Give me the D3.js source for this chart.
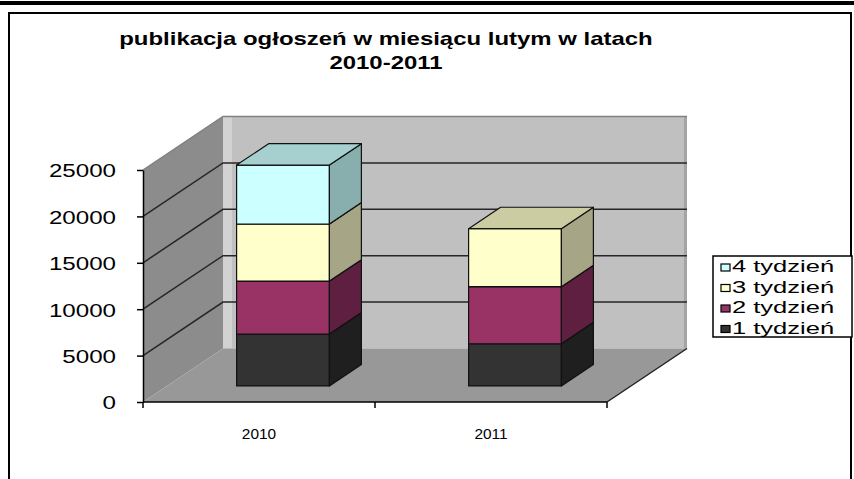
<!DOCTYPE html>
<html>
<head>
<meta charset="utf-8">
<script src="https://cdn.jsdelivr.net/npm/d3@7"></script>
<style>
  body { margin: 0; background: #fff; }
  text { font-family: "Liberation Sans", Arial, sans-serif; }
</style>
</head>
<body>
<div id="CHART"></div>
<script>
// values
var years = ["2010", "2011"];
var weeks = ["1 tydzień", "2 tydzień", "3 tydzień", "4 tydzień"];
var week1 = [5600, 4550];
var week2 = [5700, 6150];
var week3 = [6150, 6250];
var week4 = [6350, 0];
var yTicks = [0, 5000, 10000, 15000, 20000, 25000];

var WIDTH = 854, HEIGHT = 479;

// 3d look: depth offset of the back wall
var DX = 80, DY = -53.5;
var Z_FRONT = 0.3, Z_BACK = 0.7;

var colors = {
    "1 tydzień": { front: "#333333", side: "#1f1f1f", top: "#2b2b2b" },
    "2 tydzień": { front: "#993366", side: "#5f1f40", top: "#7a2952" },
    "3 tydzień": { front: "#ffffcc", side: "#a6a686", top: "#ccccA3" },
    "4 tydzień": { front: "#ccffff", side: "#88aeae", top: "#a6cfcf" }
};

// stretch text horizontally like the scaled original
function stretch(sel, k) {
    sel.each(function() {
        var w = this.getComputedTextLength();
        d3.select(this).attr("textLength", w * k).attr("lengthAdjust", "spacingAndGlyphs");
    });
}

function proj(px, py, z) {
    return [px + z * DX, py + z * DY];
}

var svg = d3.select("#CHART")
    .append("svg")
    .attr("width", WIDTH)
    .attr("height", HEIGHT);

// frame
svg.append("rect").attr("x", 0).attr("y", 1).attr("width", WIDTH).attr("height", 4).attr("fill", "#000");
svg.append("rect").attr("x", 9).attr("y", 13).attr("width", 842).attr("height", 480)
    .attr("fill", "none").attr("stroke", "#000").attr("stroke-width", 2);

var x = d3.scaleBand()
    .domain(years)
    .range([143, 607])
    .paddingInner(0.6)
    .paddingOuter(0.3);

var y = d3.scaleLinear()
    .domain([0, 25000])
    .range([402, 170]);

var xL = x.range()[0], xR = x.range()[1];
var yMin = y(0), yMax = y(25000);

function poly(pts) { return pts.map(function(p) { return p.join(","); }).join(" "); }

// walls and floor
svg.append("polygon")
    .attr("points", poly([proj(xL, yMax, 1), proj(xR, yMax, 1), proj(xR, yMin, 1), proj(xL, yMin, 1)]))
    .attr("fill", "#c0c0c0");
svg.append("rect")
    .attr("x", proj(xL, 0, 1)[0]).attr("y", proj(0, yMax, 1)[1])
    .attr("width", 9).attr("height", yMin - yMax)
    .attr("fill", "#d2d2d2");
svg.append("rect")
    .attr("x", proj(xR, 0, 1)[0] - 3).attr("y", proj(0, yMax, 1)[1])
    .attr("width", 3).attr("height", yMin - yMax)
    .attr("fill", "#a4a4a4");
svg.append("polygon")
    .attr("points", poly([proj(xL, yMax, 0), proj(xL, yMax, 1), proj(xL, yMin, 1), proj(xL, yMin, 0)]))
    .attr("fill", "#8c8c8c");
svg.append("polygon")
    .attr("points", poly([proj(xL, yMin, 0), proj(xR, yMin, 0), proj(xR, yMin, 1), proj(xL, yMin, 1)]))
    .attr("fill", "#989898");

// gridlines on side and back wall
svg.selectAll("grid")
    .data(yTicks.filter(function(v) { return v > 0; }))
    .enter()
    .append("polyline")
    .attr("points", function(v) { return poly([proj(xL, y(v), 0), proj(xL, y(v), 1), proj(xR, y(v), 1)]); })
    .attr("fill", "none")
    .attr("stroke", function(v) { return v === 25000 ? "#808080" : "#262626"; })
    .attr("stroke-width", 1.5);

// right edge of the floor
svg.append("line")
    .attr("x1", xR).attr("y1", yMin)
    .attr("x2", proj(xR, yMin, 1)[0]).attr("y2", proj(xR, yMin, 1)[1])
    .attr("stroke", "#222").attr("stroke-width", 1.5);

// stacked bars
var rows = years.map(function(yr, i) {
    return { year: yr, "1 tydzień": week1[i], "2 tydzień": week2[i], "3 tydzień": week3[i], "4 tydzień": week4[i] };
});
var series = d3.stack().keys(weeks)(rows);

var segments = [];
years.forEach(function(yr, i) {
    series.forEach(function(s) {
        if (s[i][1] - s[i][0] > 0) {
            segments.push({ key: s.key, year: yr, y0: s[i][0], y1: s[i][1] });
        }
    });
});

var bars = svg.selectAll("allBars")
    .data(segments)
    .enter()
    .append("g");

bars.append("polygon")
    .attr("points", function(d) {
        var a = x(d.year), b = a + x.bandwidth();
        return poly([proj(a, y(d.y0), Z_FRONT), proj(b, y(d.y0), Z_FRONT), proj(b, y(d.y1), Z_FRONT), proj(a, y(d.y1), Z_FRONT)]);
    })
    .attr("fill", function(d) { return colors[d.key].front; });

bars.append("polygon")
    .attr("points", function(d) {
        var b = x(d.year) + x.bandwidth();
        return poly([proj(b, y(d.y0), Z_FRONT), proj(b, y(d.y1), Z_FRONT), proj(b, y(d.y1), Z_BACK), proj(b, y(d.y0), Z_BACK)]);
    })
    .attr("fill", function(d) { return colors[d.key].side; });

bars.append("polygon")
    .attr("points", function(d) {
        var a = x(d.year), b = a + x.bandwidth();
        return poly([proj(a, y(d.y1), Z_FRONT), proj(b, y(d.y1), Z_FRONT), proj(b, y(d.y1), Z_BACK), proj(a, y(d.y1), Z_BACK)]);
    })
    .attr("fill", function(d) { return colors[d.key].top; });

bars.selectAll("polygon")
    .attr("stroke", "#111")
    .attr("stroke-width", 1.2)
    .attr("stroke-linejoin", "round");

// y axis
var yAxis = svg.append("g")
    .attr("transform", "translate(" + xL + ",0)")
    .call(d3.axisLeft(y).tickValues(yTicks).tickFormat(d3.format("d"))
        .tickSize(6).tickSizeOuter(0).tickPadding(21));
yAxis.selectAll("line, path").attr("stroke", "#000").attr("stroke-width", 1.5);
yAxis.selectAll("text")
    .attr("fill", "#000")
    .style("font-size", "19px")
    .attr("dy", "0.36em");
stretch(yAxis.selectAll("text"), 1.27);

// x axis: ticks on the category boundaries, labels at the centres
svg.append("line")
    .attr("x1", xL).attr("x2", xR).attr("y1", yMin).attr("y2", yMin)
    .attr("stroke", "#000").attr("stroke-width", 1.5);
svg.selectAll("xTicks")
    .data(d3.range(years.length + 1))
    .enter()
    .append("line")
    .attr("x1", function(i) { return xL + i * x.step(); })
    .attr("x2", function(i) { return xL + i * x.step(); })
    .attr("y1", yMin).attr("y2", yMin + 6)
    .attr("stroke", "#000").attr("stroke-width", 1.5);
var xLabels = svg.selectAll("xLabels")
    .data(years)
    .enter()
    .append("text")
    .attr("x", function(d) { return x(d) + x.bandwidth() / 2; })
    .attr("y", 439)
    .attr("text-anchor", "middle")
    .style("font-size", "14px")
    .text(function(d) { return d; });
stretch(xLabels, 1.1);

// title
var title = svg.append("g").attr("font-weight", "bold").style("font-size", "19px");
title.append("text").attr("x", 386).attr("y", 45).attr("text-anchor", "middle")
    .text("publikacja ogłoszeń w miesiącu lutym w latach");
title.append("text").attr("x", 386).attr("y", 69).attr("text-anchor", "middle")
    .text("2010-2011");
stretch(title.selectAll("text"), 1.26);

// legend
var legend = svg.append("g").attr("transform", "translate(713,256)");
legend.append("rect")
    .attr("width", 139).attr("height", 81)
    .attr("fill", "#fff").attr("stroke", "#000").attr("stroke-width", 1.5);
var items = legend.selectAll("allItems")
    .data(weeks.slice().reverse())
    .enter()
    .append("g")
    .attr("transform", function(d, i) { return "translate(0," + (16 + i * 20.5) + ")"; });
items.append("rect")
    .attr("x", 8).attr("y", -8)
    .attr("width", 9).attr("height", 7)
    .attr("fill", function(d) { return colors[d].front; })
    .attr("stroke", "#000").attr("stroke-width", 1.2);
var legendText = items.append("text")
    .attr("x", 19).attr("y", 0)
    .style("font-size", "17px")
    .text(function(d) { return d; });
stretch(legendText, 1.5);
</script>
</body>
</html>
